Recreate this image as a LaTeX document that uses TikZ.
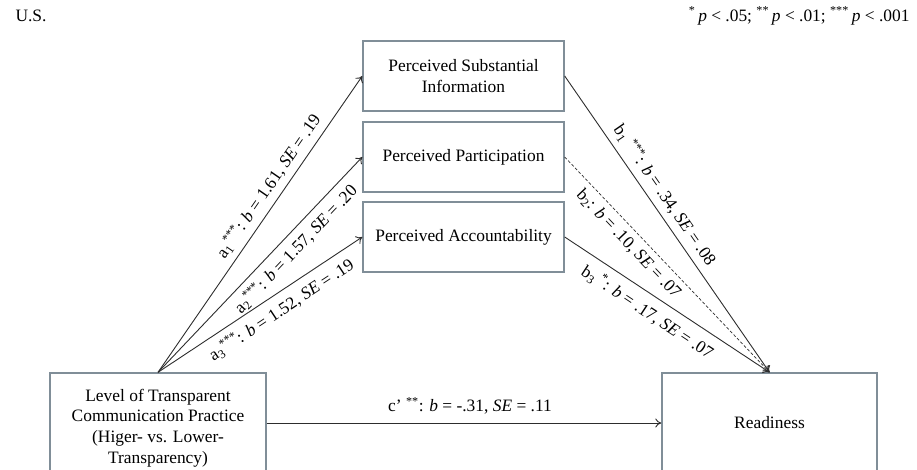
\documentclass[tikz,border=0pt]{standalone}
\usepackage{fontspec}
\setmainfont{Liberation Serif}
\usetikzlibrary{arrows.meta}
\definecolor{boxgray}{RGB}{128,142,152}
\definecolor{linegray}{RGB}{45,45,45}

\begin{document}
\begin{tikzpicture}[x=1pt,y=-1pt,
  every node/.style={font=\fontsize{17.4}{20.7}\selectfont},
  varbox/.style={draw=boxgray,line width=1.4pt,align=center,inner sep=2pt},
  medbox/.style={varbox,minimum width=201pt,minimum height=70pt},
  effect/.style={draw=linegray,line width=0.9pt,-{To[length=6pt,width=9pt]}},
  est/.style={sloped,inner sep=2pt}]
\useasboundingbox (0,0) rectangle (917,469);
\clip (0,0) rectangle (917,469);

% header
\node[anchor=base west] (region) at (12,21) {U.S.};
\node[anchor=base east] (sig) at (913,21) {\textsuperscript{*}\,\textit{p} < .05; \textsuperscript{**}\,\textit{p} < .01; \textsuperscript{***}\,\textit{p} < .001};

% variables
\node[varbox,minimum width=216pt,minimum height=100pt,text height=84pt] (trans) at (158,423) {Level of Transparent\\Communication Practice\\(Higer- vs. Lower-\\Transparency)};
\node[varbox,minimum width=215pt,minimum height=100pt] (ready) at (769.5,423) {Readiness};
\node[medbox] (info) at (463.5,76) {Perceived Substantial\\Information};
\node[medbox] (part) at (463.5,157) {Perceived Participation};
\node[medbox] (acct) at (463.5,237) {Perceived Accountability};

% a paths
\draw[effect] (trans.north) -- (info.west) node[est,pos=0.6,above=4pt] {a\textsubscript{1}\textsuperscript{***}: \textit{b} = 1.61, \textit{SE} = .19};
\draw[effect] (trans.north) -- (part.west) node[est,pos=0.62,below=4pt] {a\textsubscript{2}\textsuperscript{***}: \textit{b} = 1.57, \textit{SE} = .20};
\draw[effect] (trans.north) -- (acct.west) node[est,pos=0.56,below=5pt] {a\textsubscript{3}\textsuperscript{***}: \textit{b} = 1.52, \textit{SE} = .19};

% b paths
\draw[effect] (info.east) -- (ready.north) node[est,pos=0.43,above=4pt] {b\textsubscript{1} \textsuperscript{***}: \textit{b} = .34, \textit{SE} = .08};
\draw[effect,dash pattern=on 3pt off 2pt,line width=0.7pt] (part.east) -- (ready.north) node[est,pos=0.36,below=4pt] {b\textsubscript{2}: \textit{b} = .10, \textit{SE} = .07};
\draw[effect] (acct.east) -- (ready.north) node[est,pos=0.45,below=6pt] {b\textsubscript{3} \textsuperscript{*}: \textit{b} = .17, \textit{SE} = .07};

% direct path
\draw[effect] (trans.east) -- (ready.west) node[midway,above=5pt,xshift=6pt] {c’ \textsuperscript{**}: \textit{b} = -.31, \textit{SE} = .11};
\end{tikzpicture}
\end{document}
